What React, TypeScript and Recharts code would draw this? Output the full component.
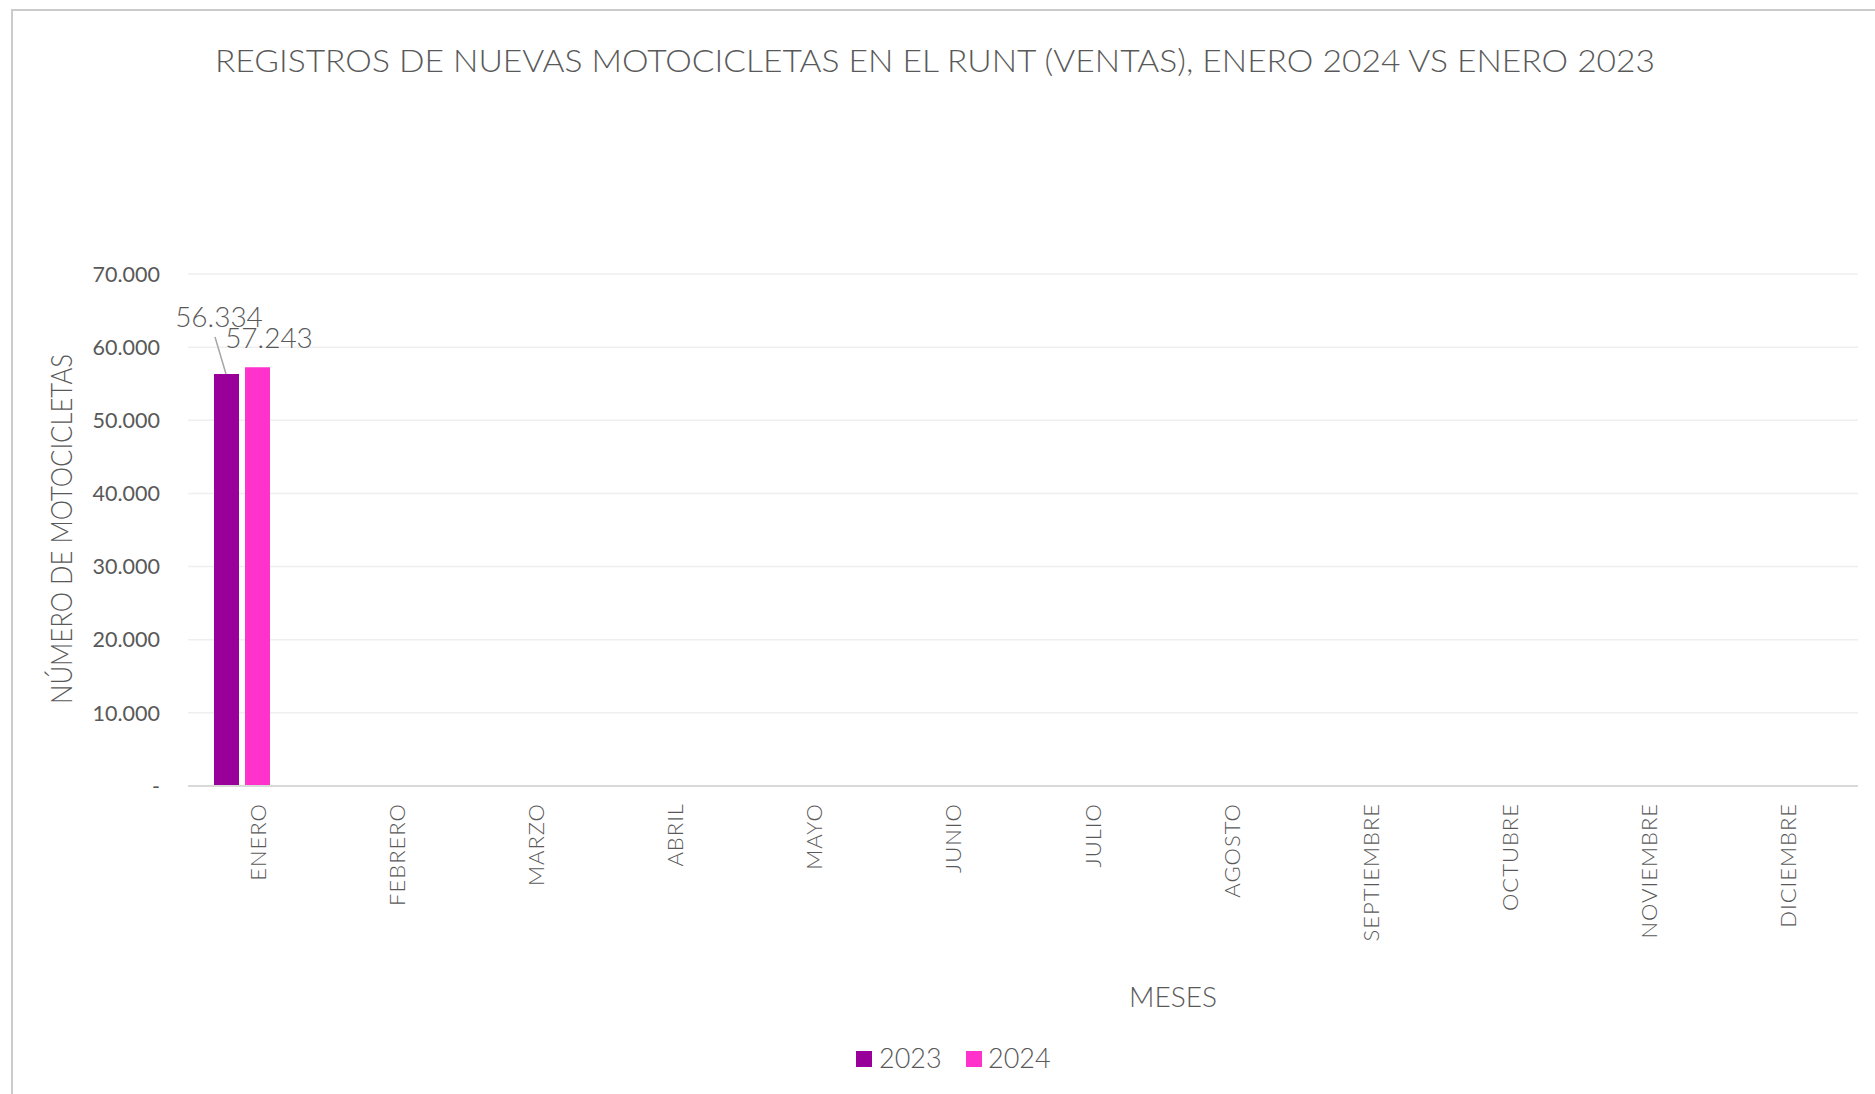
import React from 'react';
import {
  BarChart,
  Bar,
  XAxis,
  YAxis,
  CartesianGrid,
  LabelList,
} from 'recharts';

const MONTHS = [
  'ENERO', 'FEBRERO', 'MARZO', 'ABRIL', 'MAYO', 'JUNIO',
  'JULIO', 'AGOSTO', 'SEPTIEMBRE', 'OCTUBRE', 'NOVIEMBRE', 'DICIEMBRE',
];
const SALES_2023: (number | null)[] = [56334, null, null, null, null, null, null, null, null, null, null, null];
const SALES_2024: (number | null)[] = [57243, null, null, null, null, null, null, null, null, null, null, null];
// empty third series in the source sheet, it still takes a slot in each group
const RESERVED: (number | null)[] = [null, null, null, null, null, null, null, null, null, null, null, null];
const Y_TICKS = [0, 10000, 20000, 30000, 40000, 50000, 60000, 70000];

const TITLE = 'REGISTROS DE NUEVAS MOTOCICLETAS EN EL RUNT (VENTAS), ENERO  2024 VS ENERO 2023';
const FONT = "Lato, 'Open Sans', sans-serif";
const TEXT = '#595959';
const C2023 = '#990099';
const C2024 = '#FF33CC';

const data = MONTHS.map((m, i) => ({
  month: m,
  v2023: SALES_2023[i],
  v2024: SALES_2024[i],
  reserved: RESERVED[i],
}));

const fmt = (v: number) =>
  v === 0 ? '-' : String(v).replace(/\B(?=(\d{3})+(?!\d))/g, '.');

const YTick = ({ y, payload }: any) => (
  <text x={160} y={y} dy="0.36em" textAnchor="end" fontSize={21.5} fill={TEXT} fontFamily={FONT}>
    {fmt(payload.value)}
  </text>
);

const XTick = ({ x, y, payload }: any) => (
  <text
    transform={`translate(${x},${y + 9}) rotate(-90)`}
    textAnchor="end"
    dy="0.36em"
    fontSize={22}
    fontWeight={300}
    letterSpacing={1}
    fill={TEXT}
    fontFamily={FONT}
  >
    {payload.value}
  </text>
);

const label2023 = (p: any) => {
  if (p.value == null) return null;
  const cx = p.x + p.width / 2;
  return (
    <g>
      <line x1={cx - 11.5} y1={p.y - 37} x2={cx - 0.5} y2={p.y} stroke="#a6a6a6" strokeWidth={1.5} />
      <text x={cx - 7.5} y={p.y - 47} textAnchor="middle" fontSize={28} fontWeight={300} fill={TEXT} fontFamily={FONT}>
        {fmt(p.value)}
      </text>
    </g>
  );
};

const label2024 = (p: any) => {
  if (p.value == null) return null;
  const cx = p.x + p.width / 2;
  return (
    <text x={cx + 11.5} y={p.y - 19} textAnchor="middle" fontSize={28} fontWeight={300} fill={TEXT} fontFamily={FONT}>
      {fmt(p.value)}
    </text>
  );
};

export default function App() {
  return (
    <div style={{ position: 'absolute', left: 0, top: 0, width: 1875, height: 1094, background: '#fff', overflow: 'hidden' }}>
      <div
        style={{
          position: 'absolute', left: 11, top: 9, width: 1900, height: 1200,
          borderLeft: '2px solid #cbcbcb', borderTop: '2px solid #cbcbcb',
        }}
      />
      <div style={{ position: 'absolute', left: 0, top: 0 }}>
        <BarChart
          width={1875}
          height={1094}
          data={data}
          margin={{ top: 274, right: 17, bottom: 0, left: 0 }}
          barCategoryGap={26}
          barGap={6}
        >
          <CartesianGrid vertical={false} stroke="#efefef" strokeWidth={1.5} />
          <XAxis
            dataKey="month"
            height={308}
            interval={0}
            tickLine={false}
            axisLine={{ stroke: '#d9d9d9', strokeWidth: 2 }}
            tick={<XTick />}
          />
          <YAxis
            width={188}
            domain={[0, 70000]}
            ticks={Y_TICKS}
            axisLine={false}
            tickLine={false}
            tick={<YTick />}
          />
          <Bar dataKey="v2023" name="2023" fill={C2023} isAnimationActive={false}>
            <LabelList dataKey="v2023" content={label2023} />
          </Bar>
          <Bar dataKey="v2024" name="2024" fill={C2024} isAnimationActive={false}>
            <LabelList dataKey="v2024" content={label2024} />
          </Bar>
          <Bar dataKey="reserved" fill="#ffffff" legendType="none" isAnimationActive={false} />
        </BarChart>
      </div>
      <svg width={1875} height={1094} style={{ position: 'absolute', left: 0, top: 0, pointerEvents: 'none' }}>
        <text x={935} y={72} textAnchor="middle" fontSize={32} fontWeight={300} fill={TEXT} fontFamily={FONT}
          textLength={1440} lengthAdjust="spacingAndGlyphs">
          {TITLE}
        </text>
        <text transform="translate(62,529) rotate(-90)" textAnchor="middle" dy="0.36em" fontSize={29} fontWeight={300}
          fill={TEXT} fontFamily={FONT} textLength={350} lengthAdjust="spacingAndGlyphs">
          NÚMERO DE MOTOCICLETAS
        </text>
        <text x={1173} y={1007} textAnchor="middle" fontSize={28} fontWeight={300} fill={TEXT} fontFamily={FONT}>
          MESES
        </text>
        <rect x={856} y={1051} width={16} height={16} fill={C2023} />
        <text x={879} y={1068} fontSize={27} fontWeight={300} fill={TEXT} fontFamily={FONT}>2023</text>
        <rect x={966} y={1051} width={16} height={16} fill={C2024} />
        <text x={988} y={1068} fontSize={27} fontWeight={300} fill={TEXT} fontFamily={FONT}>2024</text>
      </svg>
    </div>
  );
}
